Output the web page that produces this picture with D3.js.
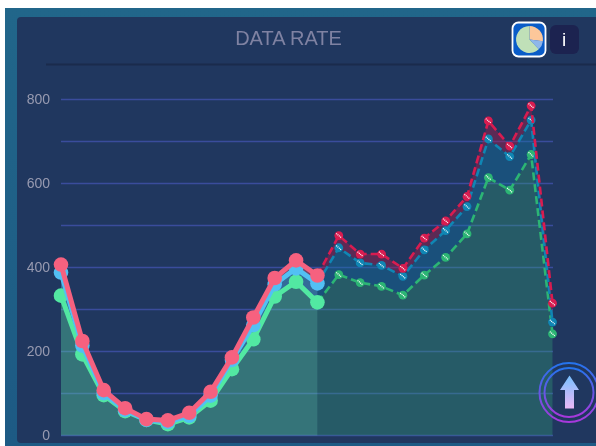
<!DOCTYPE html>
<html><head><meta charset="utf-8">
<style>html,body{margin:0;padding:0;background:#fff;overflow:hidden}svg{display:block;filter:blur(.4px)}</style>
<script src="https://cdn.jsdelivr.net/npm/d3@7"></script></head>
<body><svg id="c" width="596" height="446"></svg>
<script>
const title = "DATA RATE";
const tickLabels = [0, 200, 400, 600, 800];
const gridValues = [0, 100, 200, 300, 400, 500, 600, 700, 800];
const slots = d3.range(24);
const redSolid   = [407,225,108,65,39,36,54,104,186,281,375,417,381];
const blueSolid  = [388,214,101,61,37,32,47,95,180,263,360,398,362];
const greenSolid = [333,193,96,58,37,27,43,83,158,229,331,366,317];
const redDash    = [381,476,432,432,398,470,511,569,749,689,785,315];
const blueDash   = [362,447,411,405,379,442,488,545,706,664,751,270];
const greenDash  = [317,383,364,355,334,382,424,480,614,584,669,242];
const pieParts = [{v:27,c:"#fcc79a"},{v:11,c:"#8fb6ea"},{v:62,c:"#c0e0b8"}];

const svg = d3.select("#c");
const x = d3.scalePoint().domain(slots).range([61,552.5]);
const y = d3.scaleLinear().domain([0,800]).range([435.5,99.5]);
const defs = svg.append("defs");
const g1 = defs.append("linearGradient").attr("id","page").attr("x1",0).attr("y1",0).attr("x2",0).attr("y2",1);
g1.append("stop").attr("offset",0).attr("stop-color","#21668a");
g1.append("stop").attr("offset",1).attr("stop-color","#1d5a84");
const ring = defs.append("linearGradient").attr("id","ring").attr("x1",0).attr("y1",0).attr("x2",0).attr("y2",1);
ring.append("stop").attr("offset",0).attr("stop-color","#2474ee");
ring.append("stop").attr("offset",1).attr("stop-color","#a838dc");
const arr = defs.append("linearGradient").attr("id","arr").attr("x1",0).attr("y1",0).attr("x2",0).attr("y2",1);
arr.append("stop").attr("offset",0).attr("stop-color","#78c0ff");
arr.append("stop").attr("offset",1).attr("stop-color","#eab8f6");

svg.append("rect").attr("x",5).attr("y",8).attr("width",591).attr("height",438).attr("fill","url(#page)");
svg.append("rect").attr("x",17).attr("y",17).attr("width",590).attr("height",426).attr("rx",4).attr("fill","#20375f");
svg.append("line").attr("x1",46).attr("x2",596).attr("y1",64.5).attr("y2",64.5).attr("stroke","#1a2b4c").attr("stroke-width",2);
svg.append("text").attr("x",288.5).attr("y",45).attr("text-anchor","middle").attr("font-family","Liberation Sans").attr("font-size",20).attr("fill","#7f82a2").text(title);

// grid
svg.append("g").selectAll("line").data(gridValues).join("line")
  .attr("x1",61).attr("x2",553).attr("y1",d=>y(d)).attr("y2",d=>y(d))
  .attr("stroke","#3a4c9c").attr("stroke-width",1.5);
// axis labels
const ax = svg.append("g").attr("transform","translate(50,0)")
  .call(d3.axisLeft(y).tickValues(tickLabels).tickSize(0).tickPadding(0));
ax.select(".domain").remove();
ax.selectAll("text").attr("font-family","Liberation Sans").attr("font-size",14).attr("fill","#979ab0");

const band = (lo,hi,off) => d3.area().x((d,i)=>x(i+off)).y0((d,i)=>lo?y(lo[i]):y(0)).y1((d,i)=>y(hi[i]));
const line = off => d3.line().x((d,i)=>x(i+off)).y(d=>y(d));
// dashed region fills
svg.append("path").datum(redDash).attr("d",band(blueDash,redDash,12)).attr("fill","#b01848").attr("fill-opacity",.42);
svg.append("path").datum(blueDash).attr("d",band(greenDash,blueDash,12)).attr("fill","#127aa8").attr("fill-opacity",.38);
svg.append("path").datum(greenDash).attr("d",band(null,greenDash,12)).attr("fill","#34a878").attr("fill-opacity",.33);
// solid region fills
svg.append("path").datum(redSolid).attr("d",band(blueSolid,redSolid,0)).attr("fill","#f06080").attr("fill-opacity",.4);
svg.append("path").datum(blueSolid).attr("d",band(greenSolid,blueSolid,0)).attr("fill","#50b8f0").attr("fill-opacity",.4);
svg.append("path").datum(greenSolid).attr("d",band(null,greenSolid,0)).attr("fill","#5ce0a8").attr("fill-opacity",.36);

// dashed series
[[greenDash,"#2cb574"],[blueDash,"#0f86b4"],[redDash,"#d81c50"]].forEach(([s,c])=>{
  svg.append("path").datum(s).attr("d",line(12)).attr("fill","none").attr("stroke",c).attr("stroke-width",2.6).attr("stroke-dasharray","8 4");
  const pts = svg.append("g").selectAll("g").data(s.slice(1)).join("g")
    .attr("transform",(d,i)=>`translate(${x(i+13)},${y(d)})`);
  pts.append("circle").attr("r",4.4).attr("fill",c);
  pts.append("line").attr("x1",-2.6).attr("y1",-2.2).attr("x2",2.6).attr("y2",2.2)
    .attr("stroke","#fff").attr("stroke-width",1.3).attr("stroke-dasharray","1 .8");
});
// solid series
[[greenSolid,"#52e8a2"],[blueSolid,"#52c0f4"],[redSolid,"#f6617f"]].forEach(([s,c])=>{
  svg.append("path").datum(s).attr("d",line(0)).attr("fill","none").attr("stroke",c).attr("stroke-width",5);
  svg.append("g").selectAll("circle").data(s).join("circle")
    .attr("cx",(d,i)=>x(i)).attr("cy",d=>y(d)).attr("r",7.3).attr("fill",c);
});

// pie button
svg.append("rect").attr("x",512.5).attr("y",22.5).attr("width",33).attr("height",34).attr("rx",6).attr("fill","#0a5cc8").attr("stroke","#fff").attr("stroke-width",1.8);
const pie = d3.pie().sort(null).value(d=>d.v);
svg.append("g").attr("transform","translate(529.5,39.5)").selectAll("path").data(pie(pieParts)).join("path")
  .attr("d",d3.arc().innerRadius(0).outerRadius(13.5)).attr("fill",d=>d.data.c);
// info button
svg.append("rect").attr("x",550).attr("y",25).attr("width",29).attr("height",29).attr("rx",6).attr("fill","#1c2350");
svg.append("text").attr("x",564).attr("y",46).attr("text-anchor","middle").attr("font-family","Liberation Sans").attr("font-size",19).attr("fill","#fff").text("i");

// up button
const up = svg.append("g").attr("transform","translate(569,392.5)");
up.append("circle").attr("r",29.5).attr("fill","none").attr("stroke","url(#ring)").attr("stroke-width",2);
up.append("circle").attr("r",24.5).attr("fill","none").attr("stroke","url(#ring)").attr("stroke-width",2);
up.append("path").attr("d","M0.5,-17L10,-2.5H5V16H-4V-2.5H-9Z").attr("fill","url(#arr)");
</script></body></html>
